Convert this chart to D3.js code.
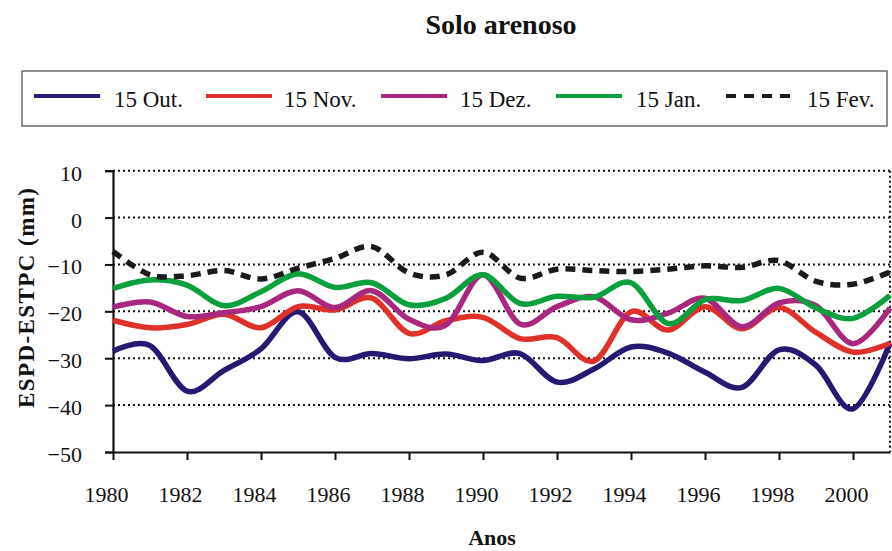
<!DOCTYPE html>
<html>
<head>
<meta charset="utf-8">
<script src="https://cdn.jsdelivr.net/npm/d3@7"></script>
<style>
  html, body { margin: 0; padding: 0; background: #fff; }
  svg { display: block; font-family: "Liberation Serif", "Times New Roman", serif; }
</style>
</head>
<body>
<svg id="chart" width="892" height="551"></svg>
<script>
// Annual values, 1980–2001
const years = d3.range(1980, 2002);
const out15 = [-28.5, -27.3, -37.0, -32.6, -28.0, -20.1, -29.8, -29.0, -30.1, -29.1, -30.5, -29.0, -35.1, -32.3, -27.6, -28.9, -33.0, -36.2, -28.2, -31.5, -40.8, -26.8];
const nov15 = [-21.9, -23.5, -22.8, -20.6, -23.5, -19.0, -19.7, -17.2, -24.7, -22.0, -21.3, -25.8, -25.6, -30.6, -20.1, -24.0, -19.0, -23.7, -19.2, -24.5, -28.7, -26.8];
const dez15 = [-19.1, -18.0, -21.1, -20.3, -19.0, -15.6, -19.2, -15.6, -21.7, -22.9, -12.2, -22.7, -19.0, -16.9, -21.8, -20.4, -17.2, -23.3, -18.2, -18.8, -26.9, -19.3];
const jan15 = [-15.1, -13.3, -14.4, -18.8, -15.8, -12.0, -14.9, -13.9, -18.6, -17.2, -12.2, -18.3, -16.8, -17.0, -13.9, -22.6, -17.5, -17.7, -15.1, -19.3, -21.5, -16.6];
const fev15 = [-7.2, -12.2, -12.4, -11.3, -13.1, -10.8, -8.7, -6.2, -11.8, -12.2, -7.4, -12.9, -11.0, -11.3, -11.5, -11.0, -10.3, -10.6, -9.2, -13.6, -14.2, -11.6];

const seriesNames = ["15 Out.", "15 Nov.", "15 Dez.", "15 Jan.", "15 Fev."];
const seriesValues = [out15, nov15, dez15, jan15, fev15];
const seriesColors = ["#251a72", "#e0302a", "#a8287f", "#0c9f3e", "#1a1a1a"];
const seriesDash = [null, null, null, null, "10,7"];

const yTicks = [10, 0, -10, -20, -30, -40, -50];
const xTicks = d3.range(1980, 2001, 2);

const svg = d3.select("#chart");
const plot = { left: 113, right: 890, top: 170.7, bottom: 452 };

const x = d3.scaleLinear().domain([1980, 2001]).range([plot.left, plot.right]);
const y = d3.scaleLinear().domain([-50, 10]).range([plot.bottom, plot.top]);

// Title
svg.append("text")
  .attr("x", 501).attr("y", 34)
  .attr("text-anchor", "middle")
  .attr("font-size", 28).attr("font-weight", "bold")
  .attr("fill", "#111")
  .text("Solo arenoso");

// Legend
const legend = svg.append("g");
legend.append("rect")
  .attr("x", 22).attr("y", 71).attr("width", 865).attr("height", 55)
  .attr("fill", "#fff").attr("stroke", "#555").attr("stroke-width", 1.3);
const legendLineX = [34, 206, 381, 556, 726];
const legendTextX = [114, 284, 460, 636, 807];
seriesNames.forEach((name, i) => {
  legend.append("line")
    .attr("x1", legendLineX[i]).attr("x2", legendLineX[i] + 66)
    .attr("y1", 96).attr("y2", 96)
    .attr("stroke", seriesColors[i]).attr("stroke-width", 4)
    .attr("stroke-dasharray", seriesDash[i] ? "10,8" : null);
  legend.append("text")
    .attr("x", legendTextX[i]).attr("y", 106.5)
    .attr("font-size", 23).attr("fill", "#111")
    .text(name);
});

// Horizontal dotted gridlines
svg.append("g")
  .selectAll("line")
  .data(yTicks.filter(d => d > -50))
  .join("line")
  .attr("x1", plot.left).attr("x2", plot.right)
  .attr("y1", d => y(d)).attr("y2", d => y(d))
  .attr("stroke", "#111").attr("stroke-width", 2)
  .attr("stroke-dasharray", "2,3");

// Dotted right border
svg.append("line")
  .attr("x1", plot.right).attr("x2", plot.right)
  .attr("y1", plot.top).attr("y2", plot.bottom)
  .attr("stroke", "#111").attr("stroke-width", 2)
  .attr("stroke-dasharray", "2,3");

// Y axis
const yAxis = d3.axisLeft(y).tickValues(yTicks).tickSize(8).tickFormat(d3.format("d"));
const gy = svg.append("g").attr("transform", `translate(${plot.left},0)`).call(yAxis);
gy.select(".domain").attr("stroke", "#111").attr("stroke-width", 2.2);
gy.selectAll(".tick line").attr("stroke", "#111").attr("stroke-width", 2);
gy.selectAll(".tick text")
  .attr("font-family", "Liberation Serif, Times New Roman, serif")
  .attr("font-size", 22).attr("fill", "#111")
  .attr("x", -31).attr("dy", null).attr("y", 9.5);

// X axis
const xAxis = d3.axisBottom(x).tickValues(xTicks).tickSize(8).tickSizeOuter(0).tickFormat(d3.format("d"));
const gx = svg.append("g").attr("transform", `translate(0,${plot.bottom})`).call(xAxis);
gx.select(".domain").attr("stroke", "#111").attr("stroke-width", 2.2);
gx.selectAll(".tick line").attr("stroke", "#111").attr("stroke-width", 2);
gx.selectAll(".tick text")
  .attr("font-family", "Liberation Serif, Times New Roman, serif")
  .attr("font-size", 22).attr("fill", "#111")
  .attr("x", -7).attr("dy", null).attr("y", 50);

// Axis titles
svg.append("text")
  .attr("transform", "translate(34,298) rotate(-90)")
  .attr("text-anchor", "middle")
  .attr("font-size", 23).attr("font-weight", "bold").attr("fill", "#111")
  .attr("textLength", 220).attr("lengthAdjust", "spacing")
  .text("ESPD-ESTPC (mm)");

svg.append("text")
  .attr("x", 492).attr("y", 545)
  .attr("text-anchor", "middle")
  .attr("font-size", 22).attr("font-weight", "bold").attr("fill", "#111")
  .text("Anos");

// Smoothed series lines
const line = d3.line()
  .x((d, i) => x(years[i]))
  .y(d => y(d))
  .curve(d3.curveCardinal.tension(0));

svg.append("g")
  .selectAll("path")
  .data(seriesValues)
  .join("path")
  .attr("d", d => line(d))
  .attr("fill", "none")
  .attr("stroke", (d, i) => seriesColors[i])
  .attr("stroke-width", 5.5)
  .attr("stroke-linejoin", "round")
  .attr("stroke-dasharray", (d, i) => seriesDash[i]);
</script>
</body>
</html>
